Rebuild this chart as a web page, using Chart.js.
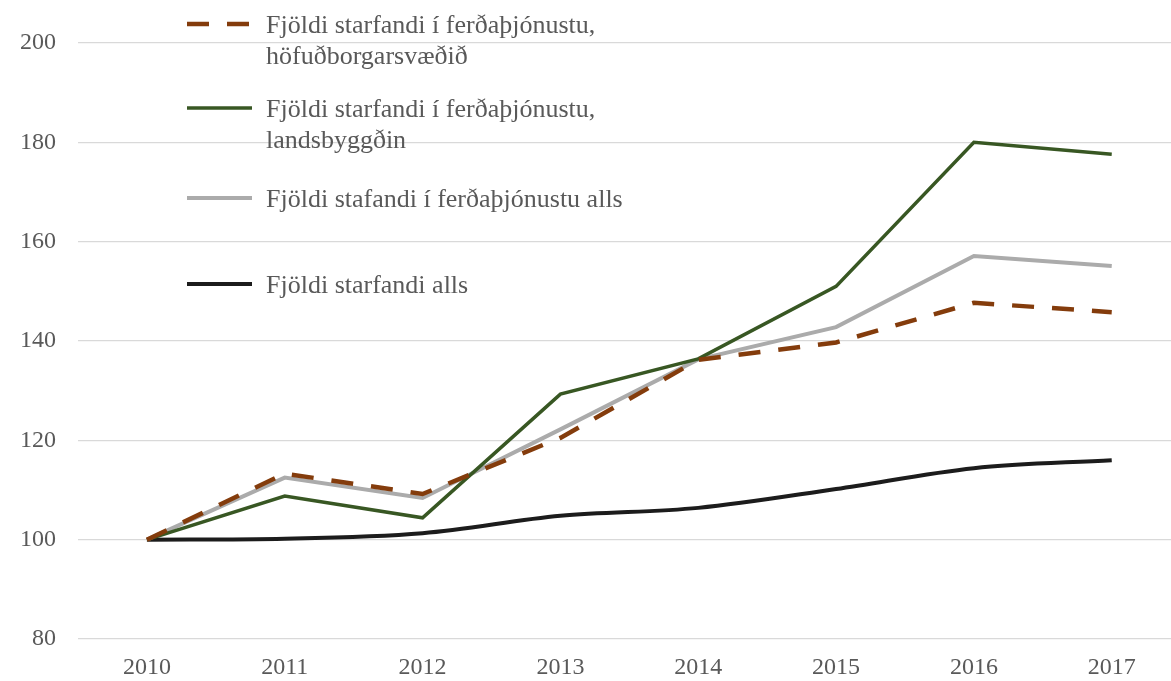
<!DOCTYPE html>
<html>
<head>
<meta charset="utf-8">
<script src="https://cdn.jsdelivr.net/npm/chart.js@4/dist/chart.umd.min.js"></script>
<style>
  html, body { margin: 0; padding: 0; background: #fff; }
  #wrap { width: 1171px; height: 681px; position: relative; }
</style>
</head>
<body>
<div id="wrap"><canvas id="starfChart"></canvas></div>
<script>
const years = [2010, 2011, 2012, 2013, 2014, 2015, 2016, 2017];
const hofudborg = [100, 113.3, 109.2, 120.5, 136.2, 139.7, 147.7, 145.8];
const landsbyggd = [100, 108.8, 104.4, 129.3, 136.4, 151, 180, 177.6];
const ferdAlls = [100, 112.5, 108.4, 122.2, 136.3, 142.8, 157.1, 155.1];
const starfandiAlls = [100, 100.2, 101.3, 104.8, 106.4, 110.2, 114.4, 116];
const yTicks = [80, 100, 120, 140, 160, 180, 200];

const legendLabels = [
    ['Fjöldi starfandi í ferðaþjónustu,', 'höfuðborgarsvæðið'],
    ['Fjöldi starfandi í ferðaþjónustu,', 'landsbyggðin'],
    ['Fjöldi stafandi í ferðaþjónustu alls'],
    ['Fjöldi starfandi alls']
];
const legendRows = [24, 108, 198, 284];

function pts(vals) {
    return vals.map((v, i) => ({ x: years[i], y: v }));
}

// legend drawn inside the plot, Excel style
const insideLegend = {
    id: 'insideLegend',
    afterDraw(chart) {
        const ctx = chart.ctx;
        chart.data.datasets.forEach((ds, i) => {
            const y = legendRows[i];
            ctx.save();
            ctx.strokeStyle = ds.borderColor;
            ctx.lineWidth = ds.borderWidth;
            ctx.setLineDash(ds.borderDash || []);
            ctx.beginPath();
            ctx.moveTo(187, y);
            ctx.lineTo(252, y);
            ctx.stroke();
            ctx.restore();

            ctx.save();
            ctx.fillStyle = '#595959';
            ctx.font = '26px "Liberation Serif", "Times New Roman", serif';
            ctx.textBaseline = 'alphabetic';
            legendLabels[i].forEach((line, k) => {
                ctx.fillText(line, 266, y + 9 + k * 31);
            });
            ctx.restore();
        });
    }
};

const tickFont = { family: '"Liberation Serif", "Times New Roman", serif', size: 24 };

new Chart(document.getElementById('starfChart'), {
    type: 'line',
    data: {
        datasets: [
            {
                label: legendLabels[0].join(' '),
                data: pts(hofudborg),
                borderColor: '#843C0C',
                borderWidth: 4.5,
                borderDash: [22, 18],
                tension: 0,
                order: 0
            },
            {
                label: legendLabels[1].join(' '),
                data: pts(landsbyggd),
                borderColor: '#385723',
                borderWidth: 3.5,
                tension: 0,
                order: 1
            },
            {
                label: legendLabels[2][0],
                data: pts(ferdAlls),
                borderColor: '#ABABAB',
                borderWidth: 4,
                tension: 0,
                order: 2
            },
            {
                label: legendLabels[3][0],
                data: pts(starfandiAlls),
                borderColor: '#1C1C1C',
                borderWidth: 4,
                cubicInterpolationMode: 'monotone',
                order: 3
            }
        ]
    },
    options: {
        responsive: true,
        maintainAspectRatio: false,
        animation: false,
        layout: { padding: { top: 43, right: 0, left: 0, bottom: 0 } },
        elements: { point: { radius: 0 } },
        scales: {
            x: {
                type: 'linear',
                min: 2009.5,
                max: 2017.43,
                afterBuildTicks: s => { s.ticks = years.map(v => ({ value: v })); },
                afterFit: s => { s.height = 42; },
                grid: { display: false, drawTicks: false },
                border: { display: false },
                ticks: {
                    padding: 14,
                    color: '#595959',
                    font: tickFont,
                    maxRotation: 0,
                    callback: v => String(v)
                }
            },
            y: {
                min: 80,
                max: 200,
                afterBuildTicks: s => { s.ticks = yTicks.map(v => ({ value: v })); },
                afterFit: s => { s.width = 78; },
                grid: { color: '#D9D9D9', lineWidth: 1.3, drawTicks: false },
                border: { display: false },
                ticks: {
                    padding: 22,
                    color: '#595959',
                    font: tickFont
                }
            }
        },
        plugins: {
            legend: { display: false },
            tooltip: { enabled: false }
        }
    },
    plugins: [insideLegend]
});
</script>
</body>
</html>
